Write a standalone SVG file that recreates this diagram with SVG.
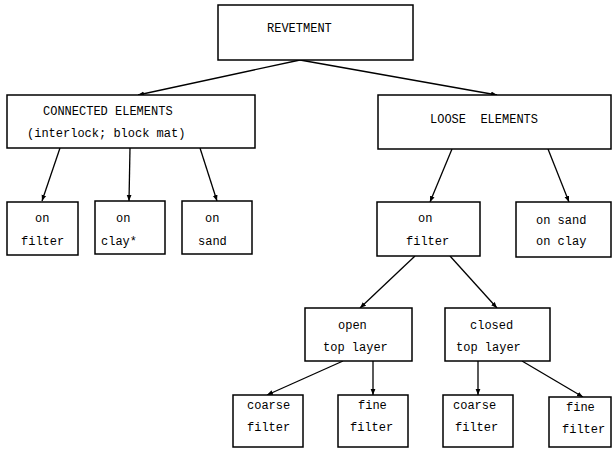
<svg xmlns="http://www.w3.org/2000/svg" width="613" height="449" viewBox="0 0 613 449">
<defs>
<style>
rect{fill:#fff;stroke:#000;stroke-width:1.5}
text{font-family:"Liberation Mono","Courier New",monospace;font-size:12px;fill:#000;white-space:pre}
#connectors line{stroke:#000;stroke-width:1.3;marker-end:url(#ah)}
</style>
<marker id="ah" viewBox="0 0 10 10" refX="10" refY="5" markerWidth="6" markerHeight="6" orient="auto" markerUnits="userSpaceOnUse">
<path d="M0,1 L10,5 L0,9 z" fill="#000"/>
</marker>
</defs>
<rect x="0" y="0" width="613" height="449" fill="#fff" stroke="none" style="stroke:none"/>
<g id="connectors">
<line x1="300" y1="60" x2="138" y2="95"/>
<line x1="300" y1="60" x2="497" y2="95"/>
<line x1="60" y1="148" x2="42" y2="201"/>
<line x1="130" y1="148" x2="129" y2="201"/>
<line x1="200" y1="148" x2="217" y2="201"/>
<line x1="452" y1="149" x2="430" y2="202"/>
<line x1="548" y1="149" x2="569" y2="202"/>
<line x1="415" y1="256" x2="360" y2="308"/>
<line x1="450" y1="256" x2="497" y2="308"/>
<line x1="343" y1="361" x2="267" y2="395"/>
<line x1="373" y1="361" x2="373" y2="395"/>
<line x1="478" y1="361" x2="478" y2="395"/>
<line x1="522" y1="361" x2="583" y2="397"/>
</g>
<g id="revetment"><rect x="218" y="5" width="195" height="55"/><text x="267" y="32">REVETMENT</text></g>
<g id="connected"><rect x="7" y="95" width="248" height="53"/><text x="43" y="115">CONNECTED ELEMENTS</text><text x="27" y="137">(interlock; block mat)</text></g>
<g id="loose"><rect x="378" y="95" width="233" height="54"/><text x="430" y="123" xml:space="preserve">LOOSE  ELEMENTS</text></g>
<g id="c-filter"><rect x="7" y="202" width="71" height="53"/><text x="35" y="222">on</text><text x="21" y="245">filter</text></g>
<g id="c-clay"><rect x="95" y="201" width="70" height="53"/><text x="116" y="222">on</text><text x="101" y="245">clay*</text></g>
<g id="c-sand"><rect x="182" y="201" width="70" height="53"/><text x="205" y="222">on</text><text x="198" y="245">sand</text></g>
<g id="l-filter"><rect x="377" y="202" width="103" height="54"/><text x="418" y="222">on</text><text x="406" y="245">filter</text></g>
<g id="l-sandclay"><rect x="516" y="202" width="95" height="55"/><text x="536" y="224">on sand</text><text x="536" y="245">on clay</text></g>
<g id="open"><rect x="305" y="308" width="107" height="53"/><text x="338" y="329">open</text><text x="323" y="351">top layer</text></g>
<g id="closed"><rect x="445" y="308" width="105" height="53"/><text x="470" y="329">closed</text><text x="456" y="351">top layer</text></g>
<g id="o-coarse"><rect x="233" y="395" width="70" height="52"/><text x="247" y="409">coarse</text><text x="247" y="431">filter</text></g>
<g id="o-fine"><rect x="338" y="395" width="70" height="52"/><text x="358" y="409">fine</text><text x="350" y="431">filter</text></g>
<g id="c-coarse"><rect x="443" y="395" width="70" height="52"/><text x="453" y="409">coarse</text><text x="455" y="431">filter</text></g>
<g id="c-fine"><rect x="549" y="397" width="62" height="50"/><text x="566" y="411">fine</text><text x="562" y="433">filter</text></g>
</svg>
